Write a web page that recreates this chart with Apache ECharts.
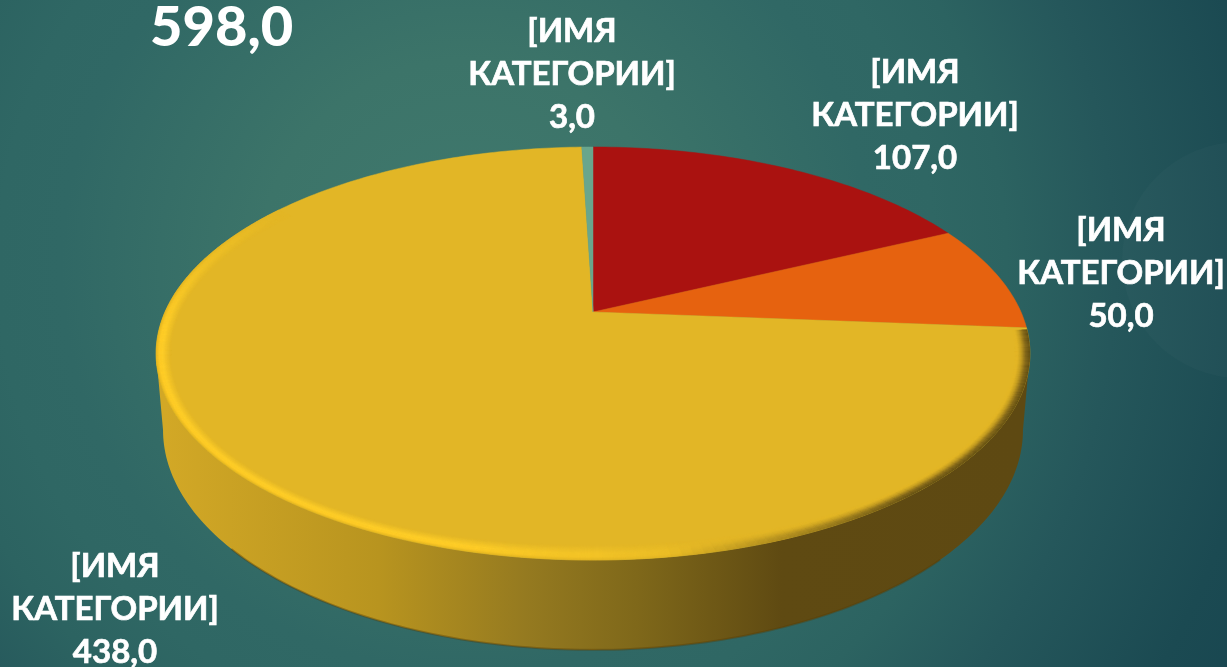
<!DOCTYPE html>
<html>
<head>
<meta charset="utf-8">
<style>html,body{margin:0;padding:0;background:#2c6463}#main{width:1227px;height:667px}</style>
<script src="https://cdn.jsdelivr.net/npm/echarts@6/dist/echarts.min.js"></script>
</head>
<body>
<div id="main"></div>
<script>
// data
const categories = ['[ИМЯ\nКАТЕГОРИИ]', '[ИМЯ\nКАТЕГОРИИ]', '[ИМЯ\nКАТЕГОРИИ]', '[ИМЯ\nКАТЕГОРИИ]'];
const values = [107, 50, 438, 3];
const totalLabel = '598,0';
const sliceColors = ['#aa1210', '#e6620f', '#e2b626', '#69a68c'];
const labelCenters = [[915, 115], [1121, 273], [115, 609], [572, 74]];

// perspective of the disc: apex, radii and foreshortening
const k = 0.201;
const top_ = { x0: 593, y0: 312, R: 428, A: 198.2 };
const bottom_ = { x0: 593, y0: 385.8, R: 421.2, A: 211 };
const ellipseC = [593, 353.5];
const total = values.reduce((a, b) => a + b, 0);
const bevelW = 15;

function project(d, a) {
  const u = Math.sin(a), v = -Math.cos(a);
  const w = 1 - k * v;
  return [d.x0 + d.R * u / w, d.y0 + d.A * v / w];
}
function sliceAngles(i) {
  let before = 0;
  for (let j = 0; j < i; j++) before += values[j];
  return [before / total * Math.PI * 2, (before + values[i]) / total * Math.PI * 2];
}
function arcPoints(d, a0, a1, n) {
  const pts = [];
  for (let i = 0; i <= n; i++) pts.push(project(d, a0 + (a1 - a0) * i / n));
  return pts;
}
function lerpColor(c1, c2, t) {
  return c1.map((c, i) => c + (c2[i] - c) * t);
}
function clamp(t) { return Math.max(0, Math.min(1, t)); }
function deg(d) { return d * Math.PI / 180; }
function profile(stops, t) {
  for (let i = 1; i < stops.length; i++) {
    if (t <= stops[i][0]) {
      const s = stops[i - 1], e = stops[i];
      return lerpColor(s[1], e[1], (t - s[0]) / (e[0] - s[0]));
    }
  }
  return stops[stops.length - 1][1];
}
const faceRgb = [226, 182, 38];
const lightStops = [[0, [225, 180, 32]], [0.22, [255, 204, 38]], [0.45, [255, 206, 40]], [1, faceRgb]];
const darkStops = [[0, [94, 74, 18]], [0.3, [125, 100, 26]], [0.6, [195, 155, 33]], [0.85, faceRgb], [1, faceRgb]];
function bevelColor(a, t) {
  const d = a * 180 / Math.PI;
  const light = clamp((d - 160) / 35) * clamp((305 - d) / 40);
  const dark = clamp((172 - d) / 30);
  let c = lerpColor(faceRgb, profile(lightStops, t), light);
  c = lerpColor(c, profile(darkStops, t), dark);
  return 'rgb(' + c.map(Math.round).join(',') + ')';
}
function inset(p, dist) {
  const dx = p[0] - ellipseC[0], dy = p[1] - ellipseC[1];
  const len = Math.sqrt(dx * dx + dy * dy);
  return [p[0] - dx / len * dist, p[1] - dy / len * dist];
}

function renderWall(params) {
  const [a0, a1] = sliceAngles(params.dataIndex);
  const from = Math.max(a0, Math.PI - Math.acos(k));
  const to = Math.min(a1, Math.PI + Math.acos(k));
  if (to <= from) return { type: 'group', children: [] };
  const upper = arcPoints(top_, from, to, 160);
  const lower = arcPoints(bottom_, from, to, 160);
  const fill = new echarts.graphic.LinearGradient(165, 0, 1022, 0, [
    { offset: 0, color: '#d2a826' },
    { offset: 0.25, color: '#b8941f' },
    { offset: 0.42, color: '#957a20' },
    { offset: 0.55, color: '#7f681a' },
    { offset: 0.72, color: '#5f4a12' },
    { offset: 1, color: '#5e4912' }
  ], true);
  // dark line only along the front of the bottom edge
  const shade = arcPoints(bottom_, deg(135), deg(228), 100);
  return {
    type: 'group',
    children: [
      { type: 'polygon', shape: { points: upper.concat(lower.slice().reverse()) }, style: { fill: fill } },
      { type: 'polyline', shape: { points: shade }, style: { fill: 'none', stroke: 'rgba(90,60,0,0.4)', lineWidth: 2 } }
    ]
  };
}

function renderFace(params) {
  const i = params.dataIndex;
  const [a0, a1] = sliceAngles(i);
  const edge = arcPoints(top_, a0, a1, Math.max(6, Math.round((a1 - a0) * 60)));
  const children = [{
    type: 'polygon',
    shape: { points: [[top_.x0, top_.y0]].concat(edge) },
    style: { fill: sliceColors[i], stroke: sliceColors[i], lineWidth: 0.5 }
  }];
  // soft rim along the front of the disc
  const from = Math.max(a0, deg(95)), to = Math.min(a1, deg(305));
  if (to > from) {
    const steps = 170, rings = 15;
    for (let s = 0; s < steps; s++) {
      const b0 = from + (to - from) * s / steps, b1 = from + (to - from) * (s + 1) / steps;
      const p0 = project(top_, b0), p1 = project(top_, b1);
      for (let r = 0; r < rings; r++) {
        const t0 = r / rings, t1 = (r + 1) / rings;
        const col = bevelColor((b0 + b1) / 2, (t0 + t1) / 2);
        children.push({
          type: 'polygon',
          shape: { points: [inset(p0, t0 * bevelW), inset(p1, t0 * bevelW), inset(p1, t1 * bevelW), inset(p0, t1 * bevelW)] },
          style: { fill: col, stroke: col, lineWidth: 0.4 }
        });
      }
    }
  }
  return { type: 'group', children: children };
}

function renderLabel(params) {
  const i = params.dataIndex;
  return {
    type: 'text',
    x: labelCenters[i][0],
    y: labelCenters[i][1],
    style: {
      text: categories[i] + '\n' + values[i].toFixed(1).replace('.', ','),
      fill: '#ffffff',
      stroke: '#ffffff',
      lineWidth: 0.7,
      font: '700 33px Lato',
      lineHeight: 43,
      align: 'center',
      verticalAlign: 'middle'
    }
  };
}

const chart = echarts.init(document.getElementById('main'));
chart.setOption({
  animation: false,
  backgroundColor: new echarts.graphic.RadialGradient(0.38, 0.4, 1.35, [
    { offset: 0, color: '#40796e' },
    { offset: 0.23, color: '#3c7469' },
    { offset: 0.45, color: '#306865' },
    { offset: 0.52, color: '#2f6764' },
    { offset: 0.6, color: '#2c6361' },
    { offset: 0.72, color: '#25575b' },
    { offset: 0.89, color: '#1b4a52' },
    { offset: 1, color: '#184650' }
  ]),
  title: {
    text: totalLabel,
    left: 145,
    top: -5,
    textStyle: { color: '#fff', fontFamily: 'Lato', fontWeight: 900, fontSize: 56 }
  },
  graphic: [
    { type: 'circle', shape: { cx: 1240, cy: 260, r: 118 }, style: { fill: 'rgba(255,255,255,0.018)' }, silent: true, z: -1 }
  ],
  series: [
    { type: 'custom', coordinateSystem: 'none', renderItem: renderWall, data: values, silent: true, z: 1 },
    { type: 'custom', coordinateSystem: 'none', renderItem: renderFace, data: values, silent: true, z: 2 },
    { type: 'custom', coordinateSystem: 'none', renderItem: renderLabel, data: values, silent: true, z: 3 }
  ]
});
</script>
</body>
</html>
